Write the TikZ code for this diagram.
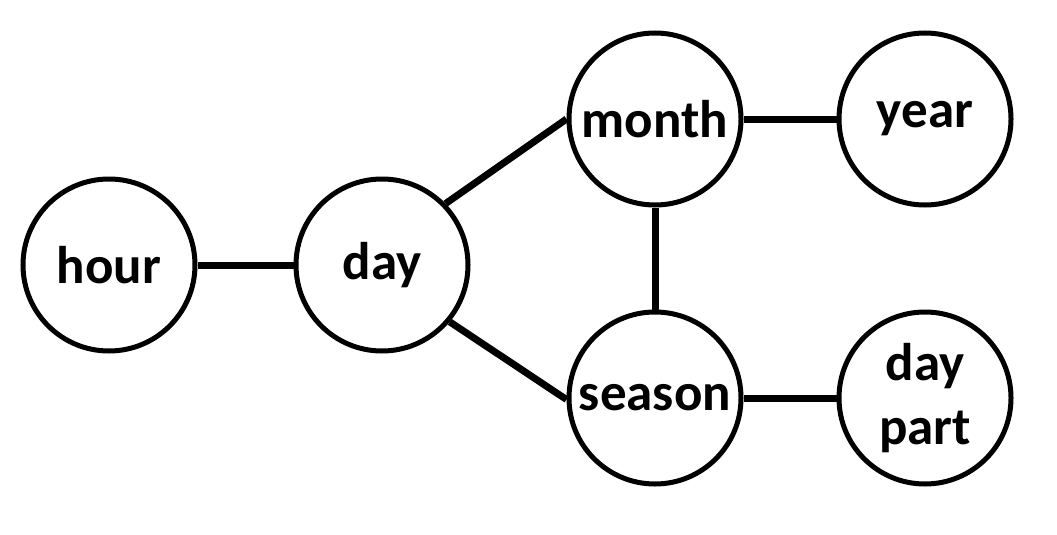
\documentclass[tikz,border=0pt]{standalone}
\usepackage{fontspec}
\setmainfont{Carlito}
\begin{document}
\begin{tikzpicture}[x=1pt,y=-1pt,
  circ/.style={circle,draw,line width=5pt,minimum size=172pt,inner sep=0pt,
    align=center,font=\bfseries\fontsize{53}{64}\selectfont},
  link/.style={line width=7pt}]
\useasboundingbox (0,0) rectangle (1057,535);
\node[circ] (hour) at (109,265) {hour};
\node[circ] (day) at (382,265) {day};
\node[circ] (month) at (655,119) {month};
\node[circ] (year) at (925,119) {year};
\node[circ] (season) at (655,398) {season};
\node[circ] (daypart) at (925,398) {day\\part};
\draw[link] (hour.east) -- (day.west);
\draw[link] (day.44) -- (month.180);
\draw[link] (day.-40) -- (season.181);
\draw[link] (month.south) -- (season.north);
\draw[link] (month.east) -- (year.west);
\draw[link] (season.east) -- (daypart.west);
\end{tikzpicture}
\end{document}
